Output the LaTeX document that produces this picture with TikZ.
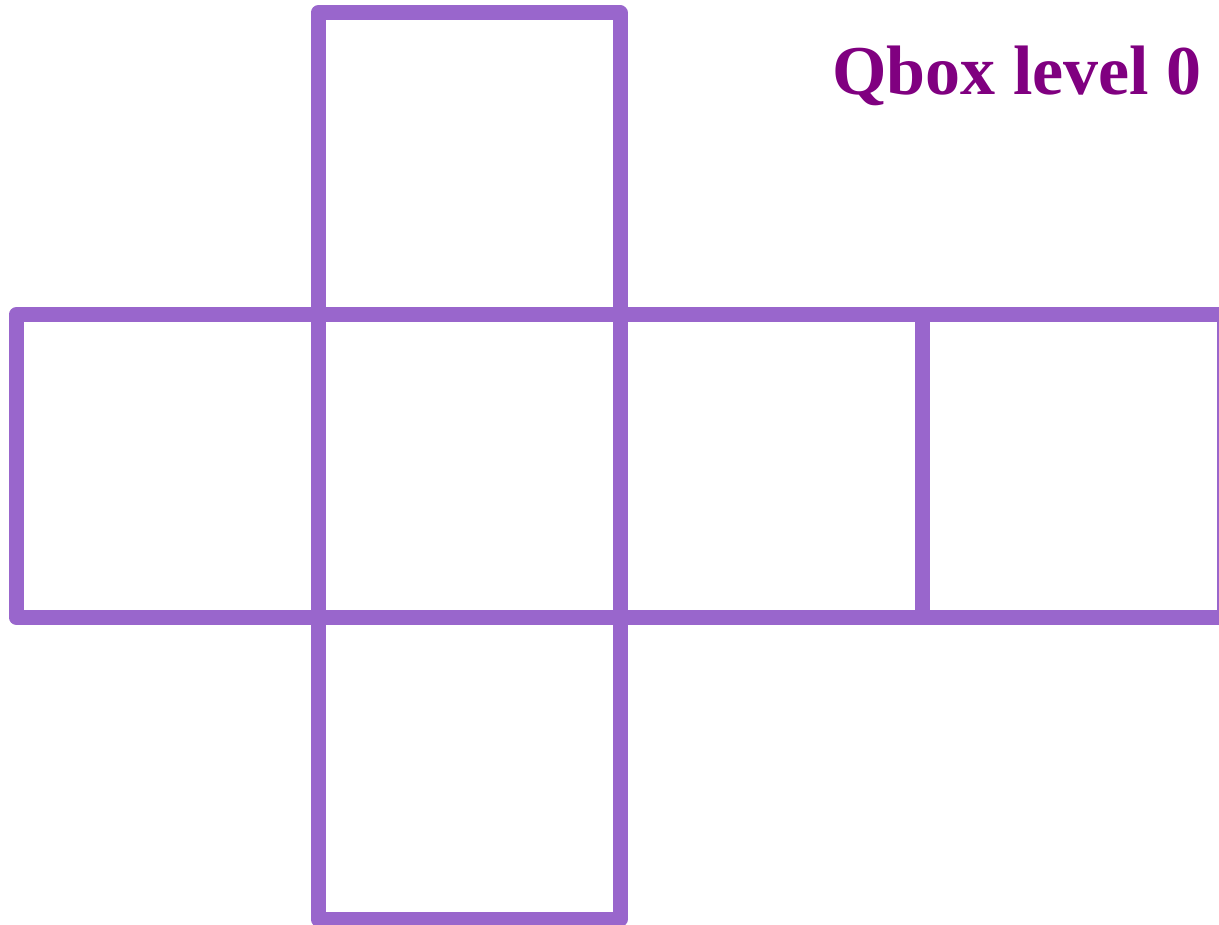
\documentclass[tikz,border=0pt]{standalone}
\usepackage{fontspec}
\setmainfont{Liberation Serif}
\usepackage{tikz}
\definecolor{netpurple}{HTML}{9966CC}
\definecolor{labelpurple}{HTML}{800080}
\tikzstyle{face}=[draw=netpurple, line width=15pt, line join=round]
\tikzstyle{title}=[text=labelpurple, font=\fontsize{70}{82}\selectfont\bfseries, inner sep=0pt]

\begin{document}
\begin{tikzpicture}[x=1pt, y=-1pt]
	\useasboundingbox (0, 0) rectangle (1219, 925);
	\clip (0, 0) rectangle (1219, 925);
	% top and bottom faces
	\draw [style=face] (318, 13) rectangle (620, 315);
	\draw [style=face] (318, 617) rectangle (620, 919);
	% middle row
	\foreach \x in {16, 318, 620, 922}
		\draw [style=face] (\x, 315) rectangle ++(302, 302);
	\node [style=title, anchor=base west] (label) at (832, 95) {Qbox level 0};
\end{tikzpicture}
\end{document}
